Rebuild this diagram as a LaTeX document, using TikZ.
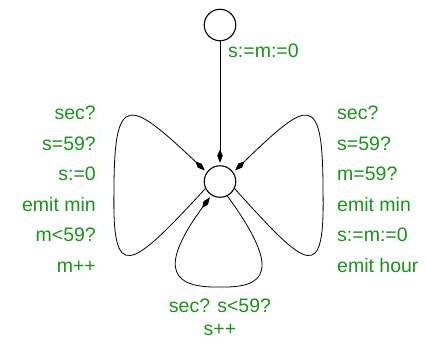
\documentclass[tikz,border=0pt]{standalone}
\usepackage{fontspec}
\setmainfont{Liberation Sans}
\usetikzlibrary{arrows.meta}
\definecolor{lblgreen}{RGB}{22,150,22}
\begin{document}
\begin{tikzpicture}[x=1pt,y=-1pt,
  state/.style={draw,circle,minimum size=31.5pt,inner sep=0pt,line width=1.1pt},
  arr/.style={draw,line width=0.8pt,-{Kite[length=13pt,width=5.5pt,inset=6pt]},shorten >=2.5pt},
  lbl/.style={text=lblgreen,font=\fontsize{19.5}{24}\selectfont,inner sep=0pt},
  lblL/.style={lbl,anchor=base east},
  lblR/.style={lbl,anchor=base west}]
\useasboundingbox (0,0) rectangle (426,341);
\node[state] (init) at (220,25) {};
\node[state] (m) at (220,181.5) {};
% labels
\node[lbl,anchor=base west] (t0) at (228,57) {s:=m:=0};
\node[lblL] (l1) at (96,119.5) {sec?};
\node[lblL] (l2) at (96,150) {s=59?};
\node[lblL] (l3) at (96,180.5) {s:=0};
\node[lblL] (l4) at (96,211) {emit min};
\node[lblL] (l5) at (96,241.5) {m<59?};
\node[lblL] (l6) at (96,272) {m++};
\node[lblR] (r1) at (337,119.5) {sec?};
\node[lblR] (r2) at (337,150) {s=59?};
\node[lblR] (r3) at (337,180.5) {m=59?};
\node[lblR] (r4) at (337,211) {emit min};
\node[lblR] (r5) at (337,241.5) {s:=m:=0};
\node[lblR] (r6) at (337,272) {emit hour};
\node[lbl,anchor=base] (b1) at (220,312) {sec? s<59?};
\node[lbl,anchor=base] (b2) at (220,335.5) {s++};
% edges
\draw[arr] (init) -- (m);
\coordinate (lw) at (114,190);
\coordinate (rw) at (323,190);
\coordinate (bw) at (220,287);
\draw[arr] (m.206) .. controls (130,270) and (112,285) .. (lw)
  .. controls (114,90) and (130,100) .. (m.145);
\draw[arr] (m.-26) .. controls (308,270) and (325,285) .. (rw)
  .. controls (323,90) and (308,100) .. (m.35);
\draw[arr] (m.-63) .. controls (283,272) and (265,288) .. (bw)
  .. controls (175,288) and (155,272) .. (m.-122);
\end{tikzpicture}
\end{document}
